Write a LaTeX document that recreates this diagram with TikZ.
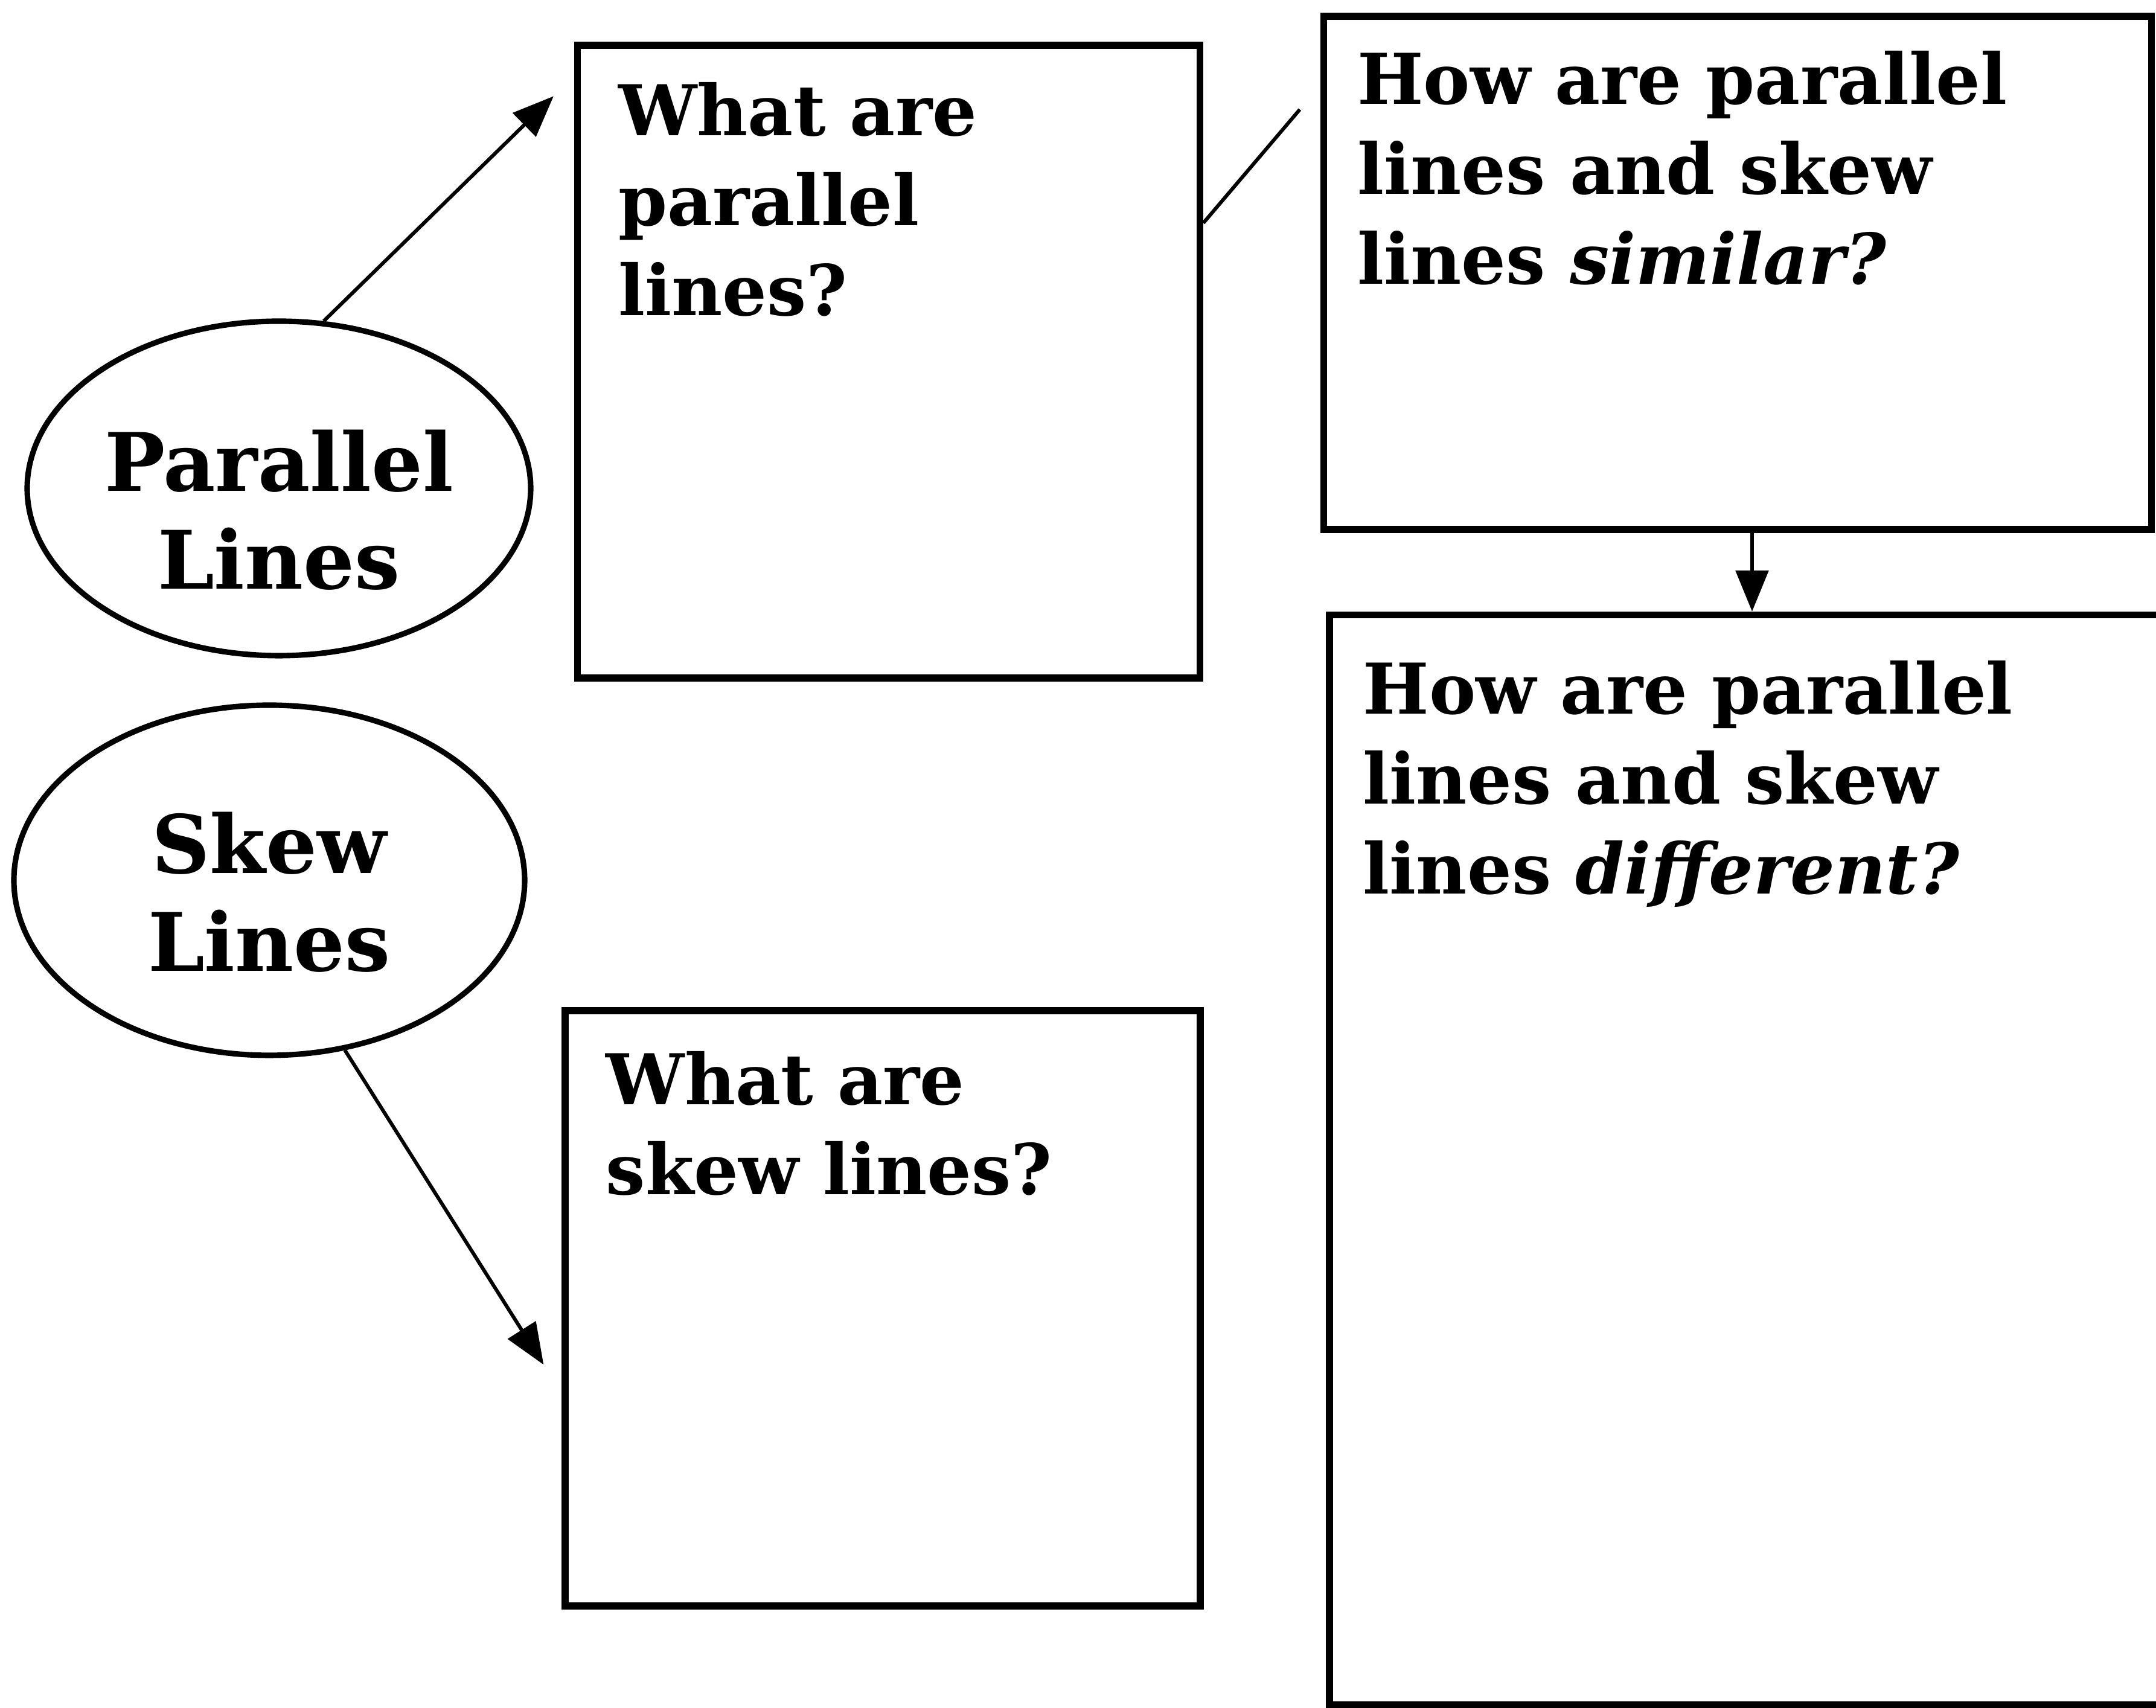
\documentclass[tikz,border=0pt]{standalone}
\usepackage{fontspec}
\setmainfont{DejaVu Serif}
\usepackage{tikz}
\usetikzlibrary{calc}
\usetikzlibrary{arrows.meta}
\usetikzlibrary{positioning}
\usetikzlibrary{shapes.geometric}

\begin{document}
\begin{tikzpicture}[
    box/.style={draw,line width=1.6pt,rectangle,inner sep=0pt},
    bubble/.style={draw,line width=1.3pt,ellipse,inner sep=0pt},
    btext/.style={align=center,inner sep=0pt,font=\fontsize{19}{23}\selectfont\bfseries},
    qtext/.style={anchor=north west,align=left,inner sep=0pt,font=\fontsize{16.5}{21.2}\selectfont\bfseries},
    arr/.style={line width=0.85pt,-{Triangle[length=0.34cm,width=0.27cm]}}]
        \useasboundingbox (0,0) rectangle (17.855,14.145);

        % Topics
        \node[bubble,minimum width=4.17cm,minimum height=2.77cm] (pl) at (2.31,10.1) {};
        \node[bubble,minimum width=4.23cm,minimum height=2.9cm] (sk) at (2.23,6.855) {};
        \node[btext] (plt) at ([yshift=-0.18cm]pl.center) {Parallel\\Lines};
        \node[btext] (skt) at ([yshift=-0.1cm]sk.center) {Skew\\Lines};

        % Question boxes
        \node[box,minimum width=5.155cm,minimum height=5.24cm] (q1) at (7.36,11.15) {};
        \node[box,minimum width=5.26cm,minimum height=4.93cm] (q2) at (7.31,3.31) {};
        \node[box,minimum width=6.855cm,minimum height=4.25cm] (q3) at (14.39,11.885) {};
        \node[box,minimum width=7.0cm,minimum height=9.025cm] (q4) at (14.51,4.54) {};

        % Questions
        \node[qtext] (t1) at ($(q1.north west)+(0.36,-0.33)$) {What are\\parallel\\lines?};
        \node[qtext] (t2) at ($(q2.north west)+(0.36,-0.36)$) {What are\\skew lines?};
        \node[qtext] (t3) at ($(q3.north west)+(0.3,-0.31)$) {How are parallel\\lines and skew\\lines \textit{similar?}};
        \node[qtext] (t4) at ($(q4.north west)+(0.3,-0.4)$) {How are parallel\\lines and skew\\lines \textit{different?}};

        % Connectors
        \coordinate (e1) at ($(q1.north west)+(-0.17,-0.45)$);
        \coordinate (e2) at ($(q2.north west)+(-0.15,-2.96)$);
        \coordinate (e3) at ($(q3.north west)+(-0.17,-0.8)$);
        \draw[arr] (pl.75) -- (e1);
        \draw[arr] (sk.-66) -- (e2);
        \draw[line width=0.85pt] ($(q1.north east)+(0,-1.5)$) -- (e3);
        \draw[arr] ([xshift=1.2mm]q3.south) -- ([xshift=1.2mm]q3.south |- q4.north);
    \end{tikzpicture}
\end{document}
